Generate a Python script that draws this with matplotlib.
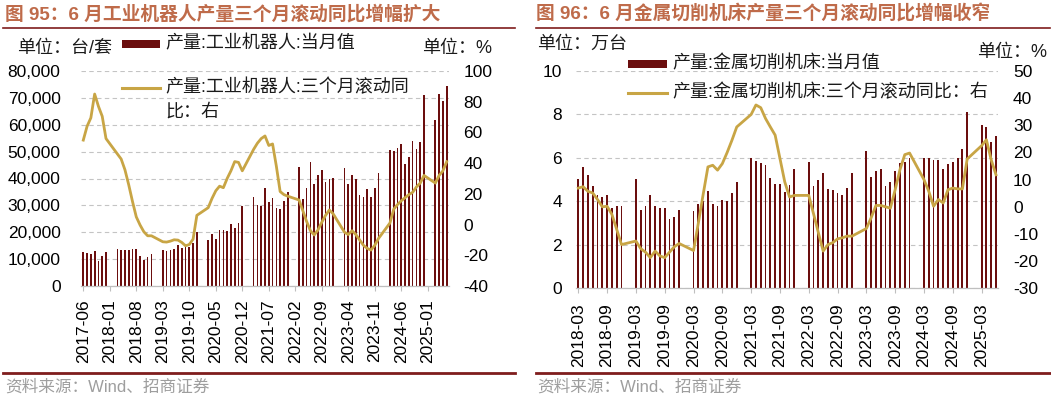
import numpy as np
import matplotlib
matplotlib.use('Agg')
import matplotlib.pyplot as plt
from matplotlib.patches import Rectangle
from matplotlib.lines import Line2D
import pandas as pd

plt.rcParams['font.family'] = ['Liberation Sans', 'Noto Sans CJK SC']

# ---------------- data ----------------
# Fig 95: industrial robot output (units), monthly 2017-06 .. 2025-06 (Jan/Feb not published)
robot_months = [str(p) for p in pd.period_range('2017-06', '2025-06', freq='M')]
robot_output = [
    12500, 12300, 11900, 13000, 9300, 11100, 12600,
    None, None, 13750, 13500, 13500, 13500, 13600, 13900, 11250, 9500, 10750, 11900,
    None, None, 13500, 12900, 13250, 13750, 15100, 14000, 14400, 14400, 16000, 20000,
    None, None, 17100, 19250, 17600, 20750, 20900, 20600, 23100, 21400, 23500, 29600,
    None, None, 33200, 30300, 29800, 36600, 31400, 32900, 29000, 28500, 31800, 35000,
    None, None, 44300, 32400, 36500, 46000, 38000, 41200, 43000, 38800, 40000, 40300,
    None, None, 43800, 38000, 41200, 39900, 34000, 33000, 36000, 33200, 36300, 41900,
    None, None, 50500, 50400, 51400, 52800, 45500, 47900, 53900, 50900, 53500, 71200,
    None, None, 61900, 71300, 68900, 74400,
]
robot_yoy3m = [
    55, 64, 69.5, 85, 77, 70.5, 56,
    None, None, 46, 42.7, 35.7, 25.9, 15, 5, -0.3, -4.7, -7.3, -7.3,
    None, None, -11.2, -11.4, -10.8, -9.9, -10.1, -11.6, -13.8, -13, -9.5, 6,
    None, None, 11, 17, 22, 25, 24, 30, 35, 41, 40.5, 35,
    None, None, 49, 53, 56, 57.7, 51.5, 52.5, 38, 21.5, 19.5, 18.5,
    None, None, 16, 9, 2, -4, -6.8, -3.5, 1.5, 6, 9.5, 7,
    None, None, -5, -6.5, -4, -6.5, -10, -13.5, -15.5, -16.6, -13.5, -9,
    None, None, 1, 10, 13, 15.5, 17.5, 19.5, 21, 24.5, 27, 32,
    None, None, 27, 32, 35, 41,
]

# Fig 96: metal cutting machine tool output (10k units), monthly 2018-03 .. 2025-06
tool_months = [str(p) for p in pd.period_range('2018-03', '2025-06', freq='M')]
tool_output = [
    5.03, 5.6, 5.2, 4.7, 4.3, 4.2, 4.3, 3.7, 3.8, 3.8,
    None, None, 5.03, 3.6, 3.8, 4.3, 3.8, 3.7, 3.7, 3.2, 3.3, 3.6,
    None, None, 3.56, 3.9, 4.0, 4.48, 3.9, 3.8, 4.07, 4.0, 4.38, 4.88,
    None, None, 5.99, 5.87, 5.76, 5.68, 5.07, 4.79, 4.79, 4.41, 4.76, 5.48,
    None, None, 5.8, 4.7, 5.0, 5.3, 4.55, 4.52, 4.4, 4.3, 4.6, 5.3,
    None, None, 6.3, 5.1, 5.4, 5.5, 4.7, 4.9, 5.4, 5.75, 5.8, 6.0,
    None, None, 6.0, 6.0, 5.9, 5.9, 5.5, 5.7, 5.8, 6.0, 6.4, 8.1,
    None, None, 7.5, 7.4, 6.75, 7.0,
]
tool_yoy3m = [
    6.9, 7.4, 5.7, 5.1, 2.7, 0, 0.2, -2.8, -8.3, -13.9,
    None, None, -12.6, -15.4, -16.7, -18.7, -16.3, -18.1, -18.7, -16.7, -14.7, -13.5,
    None, None, -16.1, -6, 4.5, 14.7, 15.3, 13.5, 15.9, 20, 24.5, 29.4,
    None, None, 34, 37.5, 36.5, 32.5, 29.4, 26.4, 17.8, 9.2, 3.6, 4.2,
    None, None, 4.2, -2.6, -9.5, -16.3, -13.9, -13.2, -11.8, -11.4, -10.8, -10.8,
    None, None, -8, -4, 0.5, 0.5, 0, -0.5, 6.3, 13.7, 19.2, 19.8,
    None, None, 10, 5.7, 0.2, 2.7, 1.4, 6.3, 6.9, 6.6, 6.6, 17.6,
    None, None, 22.5, 24.7, 17.3, 11.8,
]

# ---------------- style ----------------
W, H = 1051, 398
BAR_C = '#6B0E0E'
LINE_C = '#C8A545'
GRID_C = '#C4C4C4'
TITLE_C = '#BF6B4A'
RULE_C = '#7F1D1D'
SRC_C = '#9E9E9E'
FS = 12.5

fig = plt.figure(figsize=(W / 100, H / 100), dpi=100)


def fx(x):
    return x / W


def fy(y):
    return 1 - y / H


def panel(rect_px, months, bars, line, ylim_l, yt_l, ylim_r, yt_r, step,
          bar_w, lpad_l, lpad_r, xpad, fmt_l):
    x0, x1, ytop, ybot = rect_px
    ax = fig.add_axes([fx(x0), fy(ybot), (x1 - x0) / W, (ybot - ytop) / H])
    n = len(months)
    x = np.arange(n)
    b = np.array(bars, dtype=float)
    l = np.array(line, dtype=float)
    mb = ~np.isnan(b)
    ax.bar(x[mb], b[mb], width=bar_w, color=BAR_C, zorder=2)
    ax.set_xlim(-0.5, n - 0.5)
    ax.set_ylim(*ylim_l)
    ax.set_yticks(yt_l)
    ax.set_yticklabels([fmt_l(v) for v in yt_l], fontsize=FS)
    ax.set_axisbelow(True)
    ax.yaxis.grid(True, color=GRID_C, linestyle=(0, (4, 3)), linewidth=0.8)
    for s in ['left', 'right', 'top']:
        ax.spines[s].set_visible(False)
    ax.spines['bottom'].set_color('#BFBFBF')
    ax.spines['bottom'].set_linewidth(0.9)
    ticks = list(range(0, n, step))
    ax.set_xticks(ticks)
    ax.set_xticklabels([months[i] for i in ticks], rotation=90, fontsize=FS)
    ax.tick_params(axis='x', length=3.5, color='#BFBFBF', pad=xpad)
    ax.tick_params(axis='y', length=0, pad=lpad_l)

    ax2 = ax.twinx()
    ml = ~np.isnan(l)
    ax2.plot(x[ml], l[ml], color=LINE_C, linewidth=2.0, zorder=3,
             solid_joinstyle='round')
    ax2.set_ylim(*ylim_r)
    ax2.set_yticks(yt_r)
    ax2.set_yticklabels([f'{v:g}' for v in yt_r], fontsize=FS)
    ax2.tick_params(axis='y', length=0, pad=lpad_r)
    for s in ax2.spines.values():
        s.set_visible(False)
    return ax, ax2


# left panel
panel((81.4, 448.6, 71, 286), robot_months, robot_output, robot_yoy3m,
      (0, 80000), list(range(0, 80001, 10000)), (-40, 100), list(range(-40, 101, 20)),
      7, 0.45, 15, 10.5, 6, lambda v: f'{v:,.0f}')

# right panel
panel((575.9, 998.4, 71, 288.3), tool_months, tool_output, tool_yoy3m,
      (0, 10), list(range(0, 11, 2)), (-30, 50), list(range(-30, 51, 10)),
      6, 0.38, 10, 10.5, 7.5, lambda v: f'{v:g}')

# ---------------- titles, rules, notes ----------------
fig.text(fx(5), fy(14), '图 95：6 月工业机器人产量三个月滚动同比增幅扩大', fontsize=13.5,
         color=TITLE_C, weight='bold', va='center', ha='left')
fig.text(fx(536), fy(14), '图 96：6 月金属切削机床产量三个月滚动同比增幅收窄', fontsize=13.5,
         color=TITLE_C, weight='bold', va='center', ha='left')

for (a, b) in [(3, 515), (536, 1050)]:
    fig.add_artist(Line2D([fx(a), fx(b)], [fy(27.5), fy(27.5)], color=RULE_C, lw=1.2))
    fig.add_artist(Line2D([fx(a), fx(b)], [fy(373), fy(373)], color=RULE_C, lw=2.0))

fig.text(fx(5), fy(386.5), '资料来源：Wind、招商证券', fontsize=12, color=SRC_C,
         va='center', ha='left')
fig.text(fx(537), fy(386.5), '资料来源：Wind、招商证券', fontsize=12, color=SRC_C,
         va='center', ha='left')

# unit labels
fig.text(fx(17), fy(48), '单位：台/套', fontsize=13, va='center', ha='left', color='#1A1A1A')
fig.text(fx(492), fy(48), '单位：%', fontsize=13, va='center', ha='right', color='#1A1A1A')
fig.text(fx(537), fy(44), '单位：万台', fontsize=13, va='center', ha='left', color='#1A1A1A')
fig.text(fx(1047), fy(53), '单位：%', fontsize=13, va='center', ha='right', color='#1A1A1A')

# legends
LEG_FS = 13


def bar_key(x0, x1, yc, label):
    fig.add_artist(Rectangle((fx(x0), fy(yc + 4)), (x1 - x0) / W, 8 / H,
                             facecolor=BAR_C, edgecolor='none'))
    fig.text(fx(x1 + 5), fy(yc), label, fontsize=LEG_FS, va='center', ha='left', color='#1A1A1A')


def line_key(x0, x1, yc, label):
    fig.add_artist(Line2D([fx(x0), fx(x1)], [fy(yc), fy(yc)], color=LINE_C, lw=2.2))
    fig.text(fx(x1 + 5), fy(yc), label, fontsize=LEG_FS, va='center', ha='left', color='#1A1A1A')


bar_key(122, 160, 43.5, '产量:工业机器人:当月值')
line_key(122, 160, 88, '产量:工业机器人:三个月滚动同')
fig.text(fx(165), fy(112), '比：右', fontsize=LEG_FS, va='center', ha='left', color='#1A1A1A')

bar_key(628, 667, 63.5, '产量:金属切削机床:当月值')
line_key(628, 667, 93, '产量:金属切削机床:三个月滚动同比：右')

fig.savefig('out.png', dpi=100)
